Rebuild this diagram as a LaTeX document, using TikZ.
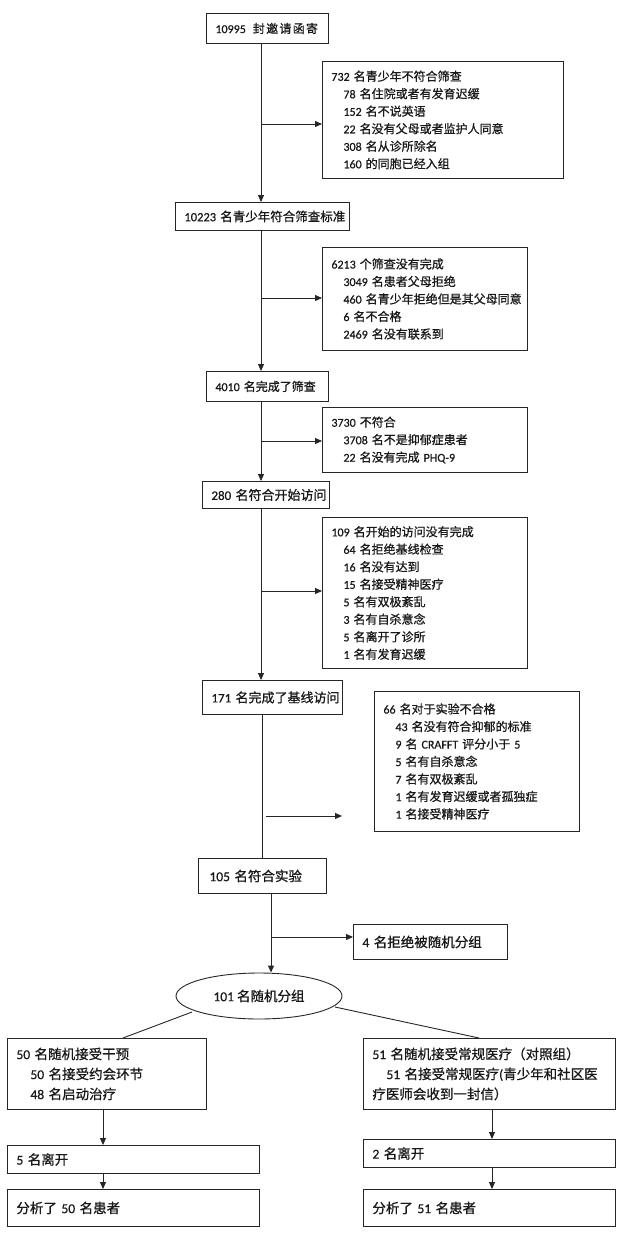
\documentclass[tikz,border=0pt]{standalone}
\usepackage{fontspec}
\usetikzlibrary{arrows.meta,shapes.geometric}
\setmainfont{Carlito}[FakeBold=0.6]
\newfontfamily\cjkfont{Noto Sans CJK SC}[FakeBold=0.8]
\newfontfamily\latfont{Carlito}[FakeBold=0.6]
\XeTeXinterchartokenstate=1
\newXeTeXintercharclass\cjkcls
\count255="4E00
\loop
  \XeTeXcharclass\count255=\cjkcls
  \advance\count255 by 1
\ifnum\count255<"A000 \repeat
\count255="3000
\loop
  \XeTeXcharclass\count255=\cjkcls
  \advance\count255 by 1
\ifnum\count255<"3040 \repeat
\count255="FF00
\loop
  \XeTeXcharclass\count255=\cjkcls
  \advance\count255 by 1
\ifnum\count255<"FFF0 \repeat
\XeTeXinterchartoks 0 \cjkcls = {\cjkfont}
\XeTeXinterchartoks 4095 \cjkcls = {\cjkfont}
\XeTeXinterchartoks \cjkcls 0 = {\latfont}
\XeTeXinterchartoks 4095 0 = {\latfont}
\tikzset{
  bx/.style={draw=black!85, line width=0.9pt, anchor=north west, align=left,
    inner xsep=9pt, inner ysep=0pt, text=black!90, font=\fontsize{12}{17.5}\selectfont},
  mid/.style={font=\fontsize{13}{19}\selectfont},
  big/.style={font=\fontsize{13.5}{20}\selectfont},
  ln/.style={line width=0.9pt, draw=black!85},
  arr/.style={ln, -{Triangle[length=7pt,width=6pt]}},
}
\newcommand\ind{\hspace*{12pt}}
\newcommand\indb{\hspace*{14pt}}
\newcommand\gp{\hspace{1.3pt}}
\begin{document}
\begin{tikzpicture}[x=1pt,y=-1pt]
\fill[white] (0,0) rectangle (640,1234);
\useasboundingbox (0,0) rectangle (640,1234);

\node[bx, text width=104pt, minimum height=30pt] (n1) at (206,13) {10995\hspace{7pt}封\gp 邀\gp 请\gp 函\gp 寄};
\node[bx, text width=223pt, minimum height=117pt] (b1) at (322,61) {732~名青少年不符合筛查\\
\ind 78~名住院或者有发育迟缓\\
\ind 152~名不说英语\\
\ind 22~名没有父母或者监护人同意\\
\ind 308~名从诊所除名\\
\ind 160~的同胞已经入组};
\node[bx, font=\fontsize{12.5}{18}\selectfont, text width=156pt, minimum height=28pt] (n2) at (175,202) {10223~名青少年符合筛查标准};
\node[bx, text width=187pt, minimum height=103pt] (b2) at (322,247) {6213~个筛查没有完成\\
\ind 3049~名患者父母拒绝\\
\ind 460~名青少年拒绝但是其父母同意\\
\ind 6~名不合格\\
\ind 2469~名没有联系到};
\node[bx, text width=104pt, minimum height=30pt] (n3) at (206,371) {4010~名完成了筛查};
\node[bx, text width=187pt, minimum height=65pt] (b3) at (322,407) {3730~不符合\\
\ind 3708~名不是抑郁症患者\\
\ind 22~名没有完成~PHQ-9};
\node[bx, mid, text width=109pt, minimum height=27pt] (n4) at (202,481) {280~名符合开始访问};
\node[bx, text width=187pt, minimum height=151pt] (b4) at (322,517) {109~名开始的访问没有完成\\
\ind 64~名拒绝基线检查\\
\ind 16~名没有达到\\
\ind 15~名接受精神医疗\\
\ind 5~名有双极紊乱\\
\ind 3~名有自杀意念\\
\ind 5~名离开了诊所\\
\ind 1~名有发育迟缓};
\node[bx, mid, text width=122pt, minimum height=34pt] (n5) at (202,680) {171~名完成了基线访问};
\node[bx, text width=187pt, minimum height=140pt] (b5) at (374,691) {66~名对于实验不合格\\
\ind 43~名没有符合抑郁的标准\\
\ind 9~名~CRAFFT~评分小于~5\\
\ind 5~名有自杀意念\\
\ind 7~名有双极紊乱\\
\ind 1~名有发育迟缓或者孤独症\\
\ind 1~名接受精神医疗};
\node[bx, big, inner xsep=11pt, text width=106pt, minimum height=35pt] (n6) at (198,858) {105~名符合实验};
\node[bx, big, text width=136pt, minimum height=35pt] (b6) at (353,924) {4~名拒绝被随机分组};
\node[ellipse, draw=black!85, line width=0.9pt, minimum width=166pt, minimum height=46pt, inner sep=0pt, text=black!90, big] (ell) at (259,996) {101~名随机分组};
\node[bx, big, text width=181pt, minimum height=71pt] (L1) at (7,1038) {50~名随机接受干预\\
\indb 50~名接受约会环节\\
\indb 48~名启动治疗};
\node[bx, big, text width=234pt, minimum height=28pt] (L2) at (7,1145) {5~名离开};
\node[bx, big, text width=234pt, minimum height=37pt] (L3) at (7,1189) {分析了~50~名患者};
\node[bx, big, text width=234pt, minimum height=71pt] (R1) at (363,1038) {51~名随机接受常规医疗（对照组）\\
\indb 51~名接受常规医疗(青少年和社区医\\
疗医师会收到一封信）};
\node[bx, big, text width=234pt, minimum height=28pt] (R2) at (363,1139) {2~名离开};
\node[bx, big, text width=234pt, minimum height=37pt] (R3) at (363,1189) {分析了~51~名患者};

% spines and junctions
\coordinate (s1) at (261,0);
\coordinate (s2) at (262,0);
\coordinate (s3) at (271,0);
\coordinate (sL) at (103,0);
\coordinate (sR) at (492,0);
\coordinate (j1) at (261,124);
\coordinate (j2) at (261,298);
\coordinate (j3) at (261,441);
\coordinate (j4) at (261,591);
\coordinate (j6) at (271,937);
\coordinate (fa) at (266,816);
\coordinate (fb) at (342,816);
\coordinate (eL) at (192,1012);
\coordinate (eR) at (335,1007);
\coordinate (tL) at (123,0);
\coordinate (tR) at (479,0);

\draw[arr] (n1.south -| s1) -- (n2.north -| s1);
\draw[arr] (j1) -- (j1 -| b1.west);
\draw[arr] (n2.south -| s1) -- (n3.north -| s1);
\draw[arr] (j2) -- (j2 -| b2.west);
\draw[arr] (n3.south -| s1) -- (n4.north -| s1);
\draw[arr] (j3) -- (j3 -| b3.west);
\draw[arr] (n4.south -| s1) -- (n5.north -| s1);
\draw[arr] (j4) -- (j4 -| b4.west);
\draw[ln] (n5.south -| s2) -- (n6.north -| s2);
\draw[arr] (fa) -- (fb);
\draw[arr] (n6.south -| s3) -- (ell.north -| s3);
\draw[arr] (j6) -- (j6 -| b6.west);
\draw[ln] (eL) -- (L1.north -| tL);
\draw[ln] (eR) -- (R1.north -| tR);
\draw[arr] (L1.south -| sL) -- (L2.north -| sL);
\draw[arr] (L2.south -| sL) -- (L3.north -| sL);
\draw[arr] (R1.south -| sR) -- (R2.north -| sR);
\draw[arr] (R2.south -| sR) -- (R3.north -| sR);
\end{tikzpicture}
\end{document}
